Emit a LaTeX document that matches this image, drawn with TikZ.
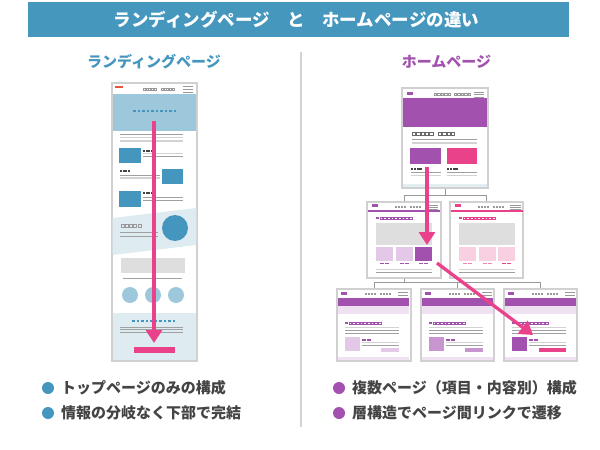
\documentclass[tikz,border=0pt]{standalone}
\usepackage{fontspec}
\newfontfamily\jp{Noto Sans CJK JP}
\usetikzlibrary{arrows.meta}
\definecolor{titleblue}{HTML}{4597BD}
\definecolor{lpblue}{HTML}{4596BF}
\definecolor{lphero}{HTML}{9DC8DC}
\definecolor{lplight}{HTML}{DEECF2}
\definecolor{hppurple}{HTML}{A251AE}
\definecolor{hppink}{HTML}{E9418A}
\definecolor{hplpur}{HTML}{E3C8E7}
\definecolor{hpmpur}{HTML}{C995CF}
\definecolor{hplpink}{HTML}{F8D0E2}
\definecolor{hpmpink}{HTML}{EE86B3}
\definecolor{hpband}{HTML}{EFE0F2}
\definecolor{phgray}{HTML}{DEDEDE}
\definecolor{linegray}{HTML}{A0A0A0}
\definecolor{lightline}{HTML}{D2D2D2}
\definecolor{framegray}{HTML}{D0D0D0}
\definecolor{textgray}{HTML}{444444}
\definecolor{menugray}{HTML}{999999}
\definecolor{lpred}{HTML}{E8553D}
\definecolor{bandgray}{HTML}{E3EEF3}
% row of small boxes: x, y(center), n, step, size, style
\newcommand\bxrow[6]{\foreach \i in {1,...,#3}{\path[#6] ({#1+(\i-1)*#4},{#2-#5/2}) rectangle ++(#5,#5);}}
% horizontal line: x1, x2, y, style
\newcommand\hln[4]{\draw[#4] (#1,#3) -- (#2,#3);}
% second-row page mockup content
\newcommand\secmock[7]{%
\begin{scope}[shift={(#1,202)}]
 \fill[#2] (5,2) rectangle (11,4.5);
 \bxrow{28}{5}{4}{3}{1.9}{fill=menugray}
 \bxrow{43}{5}{4}{3}{1.9}{fill=menugray}
 \foreach \yy in {3,5,7} {\hln{60}{71}{\yy}{menugray, line width=0.5}}
 \hln{0.6}{73.4}{9}{#2, line width=2}
 \fill[#2] (9,14.7) rectangle ++(2.6,2.6);
 \bxrow{12.7}{16}{9}{3.7}{2.6}{draw=#2, line width=0.4}
 \fill[phgray] (9,21) rectangle (65,43);
 \fill[#3] (9,45) rectangle (26,59);
 \fill[#3] (29,45) rectangle (46,59);
 \fill[#4] (48,45) rectangle (65,59);
 \bxrow{13}{61.5}{4}{2.4}{1.9}{fill=#5}
 \bxrow{33}{61.5}{4}{2.4}{1.9}{fill=#6}
 \bxrow{52}{61.5}{4}{2.4}{1.9}{fill=#7}
 \hln{9}{65}{67}{lightline, line width=1}
 \hln{9}{65}{69.8}{linegray, line width=0.6}
\end{scope}}
% third-row page mockup content: x0, square colour, button colour, button start, button top
\newcommand\botmock[5]{%
\begin{scope}[shift={(#1,289)}]
 \fill[hppurple] (4,3) rectangle (10,5.5);
 \bxrow{28}{5}{4}{3}{1.9}{fill=menugray}
 \bxrow{43}{5}{4}{3}{1.9}{fill=menugray}
 \foreach \yy in {3.5,6.5} {\hln{61}{71}{\yy}{menugray, line width=0.5}}
 \fill[hppurple] (0.6,9) rectangle (72.4,17);
 \fill[hpband] (0.6,17) rectangle (72.4,25);
 \fill[hppurple] (8,32.7) rectangle ++(2.6,2.6);
 \bxrow{11.7}{34}{9}{3.7}{2.6}{draw=hppurple, line width=0.4}
 \hln{8}{62}{38}{lightline, line width=1}
 \hln{8}{62}{41}{linegray, line width=0.6}
 \hln{8}{62}{44}{linegray, line width=0.6}
 \fill[#2] (8,48) rectangle (23,62);
 \bxrow{25}{51}{4}{2.4}{1.9}{fill=hppurple}
 \hln{25}{62}{53.8}{lightline, line width=1}
 \hln{25}{62}{56.6}{linegray, line width=0.6}
 \fill[#3] (#4,#5) rectangle (62,62.5);
 \fill[hpband] (0.6,68) rectangle (72.4,71.4);
\end{scope}}
\tikzset{
 mock/.style={draw=framegray, fill=white, line width=1.1pt, inner sep=0pt},
 tree/.style={draw=menugray, line width=0.9pt},
 pinkarrow/.style={draw=hppink, line width=3.3pt, -{Triangle[width=16pt,length=13pt]}},
 subtitle/.style={font=\jp\bfseries\fontsize{15}{18}\selectfont},
 bullet/.style={circle, minimum size=12pt, inner sep=0pt},
 btext/.style={anchor=west, inner sep=0pt, text=textgray, font=\jp\bfseries\fontsize{15}{18}\selectfont},
}
\begin{document}
\begin{tikzpicture}[x=1pt,y=-1pt]
\useasboundingbox (0,0) rectangle (600,450);
\fill[white] (0,0) rectangle (600,450);
% title
\node[fill=titleblue, minimum width=541pt, minimum height=35pt, inner sep=0pt] (title) at (298.5,19.5) {};
\node[text=white, inner sep=0pt, font=\jp\bfseries\fontsize{17.5}{20}\selectfont] (titletext) at (296.5,19.5) {ランディングページ　と　ホームページの違い};
\node[subtitle, text=lpblue] (lptitle) at (154,62) {ランディングページ};
\node[subtitle, text=hppurple] (hptitle) at (446.5,62) {ホームページ};
\coordinate (divtop) at (301,52);
\coordinate (divbot) at (301,427);
\draw[lightline, line width=1.3pt] (divtop) -- (divbot);

% ===== landing page mockup =====
\node[mock, minimum width=85pt, minimum height=278pt] (lp) at (154.5,222) {};
\fill[lpred] (115,85.5) rectangle (123,88.3);
\bxrow{143}{89}{5}{2.7}{2}{draw=menugray, line width=0.4}
\bxrow{161}{89}{5}{2.7}{2}{draw=menugray, line width=0.4}
\foreach \yy in {86,89,92} {\hln{183}{193}{\yy}{menugray, line width=0.5}}
\fill[lphero] (112.6,94) rectangle (196.4,131);
\bxrow{133}{111}{10}{4.5}{2.8}{fill=lpblue}
\hln{120}{183}{134.3}{linegray, line width=0.7}
\hln{120}{183}{137.5}{lightline, line width=1.4}
\hln{120}{183}{141}{lightline, line width=1.4}
% row 1
\fill[lpblue] (119,148) rectangle (141,163);
\bxrow{143}{150.5}{4}{2.6}{2}{fill=textgray}
\hln{143}{183}{153.5}{lightline, line width=1.3}
\hln{143}{183}{156.5}{linegray, line width=0.7}
% row 2
\bxrow{120}{171}{4}{2.6}{2}{fill=textgray}
\hln{120}{160}{175}{linegray, line width=0.7}
\hln{120}{160}{178}{lightline, line width=1.3}
\fill[lpblue] (162,169) rectangle (183,184);
% row 3
\fill[lpblue] (119,191) rectangle (141,207);
\bxrow{143}{193}{4}{2.6}{2}{fill=textgray}
\hln{143}{183}{197}{linegray, line width=0.7}
\hln{143}{183}{200}{linegray, line width=0.7}
% slanted section
\fill[lplight] (112.6,218) -- (196.4,208) -- (196.4,245) -- (112.6,255) -- cycle;
\fill[lpblue] (175,228) circle (13);
\bxrow{121}{226}{5}{4.2}{3}{draw=menugray, line width=0.5}
\hln{120}{158}{232}{linegray, line width=0.7}
\hln{120}{158}{236}{linegray, line width=0.7}
% gray block and circles
\fill[phgray] (121,258) rectangle (185,273);
\hln{123}{182}{278}{linegray, line width=0.7}
\foreach \cx in {130,153,176} {\fill[lphero] (\cx,295) circle (8);}
% footer
\fill[lplight] (112.6,313) rectangle (196.4,360.4);
\bxrow{132}{321}{10}{4.5}{2.8}{fill=lpblue}
\hln{120}{183}{327}{linegray, line width=0.6}
\hln{120}{183}{329.5}{linegray, line width=0.6}
\hln{120}{183}{332}{linegray, line width=0.6}
\fill[hppink] (134,347) rectangle (175,352.5);
\coordinate (lpA) at (154,121);
\coordinate (lpB) at (154,343);
\draw[pinkarrow] (lpA) -- (lpB);

% ===== home page mockups =====
\node[mock, minimum width=86pt, minimum height=100pt] (m1) at (445,138) {};
\node[mock, minimum width=74pt, minimum height=76pt] (m2a) at (404,240) {};
\node[mock, minimum width=73pt, minimum height=76pt] (m2b) at (486.5,240) {};
\node[mock, minimum width=74pt, minimum height=72pt] (m3a) at (374,325) {};
\node[mock, minimum width=73pt, minimum height=72pt] (m3b) at (457.5,325) {};
\node[mock, minimum width=73pt, minimum height=72pt] (m3c) at (540.5,325) {};
% tree connectors
\draw[tree] (m1.south) -- ++(0,7) -| (m2a.north);
\draw[tree] (m1.south) -- ++(0,7) -| (m2b.north);
\draw[tree] (m2a.south) -- ++(0,4) -| (m3a.north);
\draw[tree] (m2a.south) -- ++(0,4) -| (m3b.north);
\draw[tree] (m2a.south) -- ++(0,4) -| (m3c.north);

% top page content
\fill[hppurple] (407,92) rectangle (413,94.5);
\bxrow{434}{94}{5}{3.5}{2.3}{draw=menugray, line width=0.4}
\bxrow{454}{94}{5}{3.5}{2.3}{draw=menugray, line width=0.4}
\foreach \yy in {92,94.5,97} {\hln{474}{484}{\yy}{menugray, line width=0.5}}
\fill[hppurple] (402.6,98) rectangle (487.4,127);
\bxrow{412}{134}{5}{4.4}{3.4}{draw=textgray!80, line width=0.45}
\bxrow{438}{134}{4}{4.4}{3.4}{draw=textgray!80, line width=0.45}
\hln{412}{477}{139}{linegray, line width=0.7}
\hln{412}{477}{143}{lightline, line width=1.4}
\fill[hppurple] (410,148) rectangle (441,164);
\fill[hppink] (447,148) rectangle (477,164);
\bxrow{411}{169}{4}{2.8}{2.1}{fill=textgray}
\bxrow{447}{169}{4}{2.8}{2.1}{fill=textgray}
\hln{411}{441}{172}{linegray, line width=0.7}
\hln{411}{441}{175.5}{lightline, line width=1.2}
\hln{447}{477}{172}{linegray, line width=0.7}
\hln{447}{477}{175.5}{lightline, line width=1.2}
\fill[bandgray] (402.6,184) rectangle (487.4,187.4);

% second row content
\secmock{367}{hppurple}{hplpur}{hppurple}{hppurple}{hppurple}{hppurple}
\secmock{450}{hppink}{hplpink}{hplpink}{hpmpink}{hpmpink}{hppink}
% third row content
\botmock{337}{hplpur}{hplpur}{44}{59}
\botmock{421}{hpmpur}{hpmpur}{44}{59}
\botmock{504}{hppurple}{hppink}{35}{58.5}

% arrows
\coordinate (hpA) at (427,167);
\coordinate (hpB) at (427,245);
\draw[pinkarrow] (hpA) -- (hpB);
\coordinate (hpC) at (437,263);
\coordinate (hpD) at (533,335);
\draw[pinkarrow] (hpC) -- (hpD);

% bullets
\node[bullet, fill=lpblue] (b1) at (48,388) {};
\node[btext] (t1) at (61,388) {トップページのみの構成};
\node[bullet, fill=lpblue] (b2) at (48,413) {};
\node[btext] (t2) at (61,413) {情報の分岐なく下部で完結};
\node[bullet, fill=hppurple] (b3) at (339,388) {};
\node[btext] (t3) at (352,388) {複数ページ（項目・内容別）構成};
\node[bullet, fill=hppurple] (b4) at (339,413) {};
\node[btext] (t4) at (352,413) {層構造でページ間リンクで遷移};
\end{tikzpicture}
\end{document}
